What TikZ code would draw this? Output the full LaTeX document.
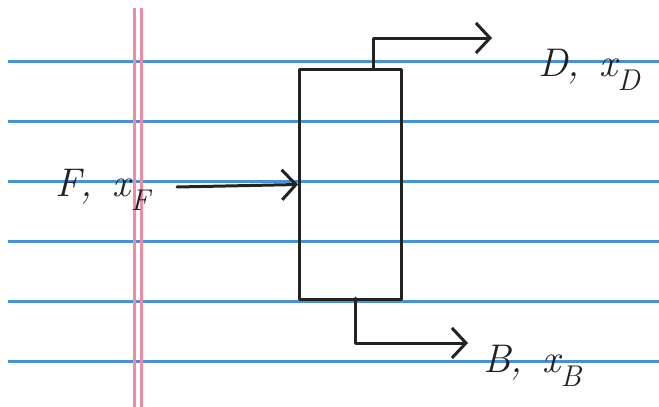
\documentclass[tikz,border=0pt]{standalone}
\usetikzlibrary{arrows.meta}
\definecolor{ruleblue}{RGB}{70,145,215}
\definecolor{marginred}{RGB}{238,140,165}
\definecolor{inkc}{RGB}{35,35,35}
\newcommand{\mysub}[1]{\raisebox{-0.34em}{\fontsize{30}{32}\selectfont\itshape #1}}
\newcommand{\streamlbl}[2]{\itshape #1,\hspace{0.5em}x\mysub{#2}}
\tikzset{
  x=1pt,y=-1pt,
  ruleline/.style={ruleblue,line width=3pt},
  marginline/.style={marginred,line width=3pt},
  inkline/.style={draw=inkc,line width=3pt,line join=round,line cap=round},
  flow/.style={inkline,-{Straight Barb[length=14pt,width=30pt]}},
  lbl/.style={font=\fontsize{40}{46}\selectfont,inner sep=0pt,text=inkc}
}
\begin{document}
\begin{tikzpicture}
\useasboundingbox (0,0) rectangle (659,407);
\fill[white] (0,0) rectangle (659,407);
% ruled paper
\foreach \yy in {61,121,181,241,301,361}
  \draw[ruleline] (8,\yy) -- (659,\yy);
\draw[marginline] (134,8) -- (134,407);
\draw[marginline] (141,8) -- (141,407);
% column
\node[inkline,minimum width=102pt,minimum height=230pt,inner sep=0pt,anchor=north west] (col) at (298,68) {};
% labels
\node[lbl,anchor=west] (F) at (55,190) {\streamlbl{F}{F}};
\node[lbl,anchor=west] (D) at (538,70) {\streamlbl{D}{D}};
\node[lbl,anchor=west] (B) at (483,366) {\streamlbl{B}{B}};
% stream points
\coordinate (fin) at (177,187);
\coordinate (fout) at ([yshift=0pt]col.west);
\coordinate (dstart) at (373,68);
\coordinate (dtop) at (373,38);
\coordinate (dend) at (492,38);
\coordinate (bstart) at (355,298);
\coordinate (bbot) at (355,343);
\coordinate (bend) at (468,343);
% streams
\draw[flow,line width=3pt] (fin) -- (col.west);
\draw[flow,line width=3pt] (dstart) -- (dtop) -- (dend);
\draw[flow,line width=3pt] (bstart) -- (bbot) -- (bend);
\end{tikzpicture}
\end{document}
